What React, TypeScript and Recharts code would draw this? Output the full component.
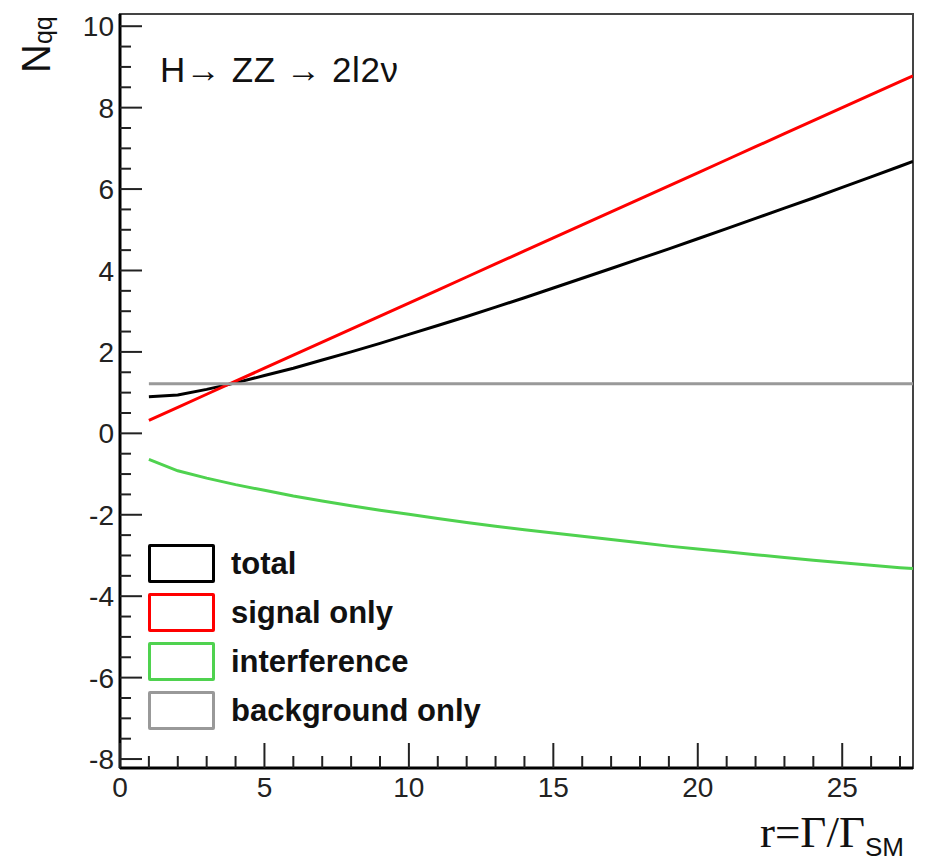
import React from "react";
import { LineChart, Line, XAxis, YAxis, ReferenceArea, Legend } from "recharts";

// r = Gamma / Gamma_SM
const rValues = [1, 2, 3, 4, 5, 6, 7, 8, 9, 10, 11, 12, 13, 14, 15, 16, 17, 18, 19, 20, 21, 22, 23, 24, 25, 26, 27, 27.45];
const total = [0.9, 0.94, 1.08, 1.24, 1.42, 1.6, 1.8, 2.0, 2.21, 2.43, 2.65, 2.87, 3.1, 3.33, 3.57, 3.81, 4.05, 4.29, 4.53, 4.78, 5.03, 5.28, 5.53, 5.78, 6.04, 6.3, 6.56, 6.68];
const signalOnly = [0.32, 0.64, 0.96, 1.28, 1.6, 1.92, 2.24, 2.56, 2.88, 3.2, 3.52, 3.84, 4.16, 4.48, 4.8, 5.12, 5.44, 5.76, 6.08, 6.4, 6.72, 7.04, 7.36, 7.68, 8.0, 8.32, 8.64, 8.78];
const interference = [-0.64, -0.92, -1.1, -1.26, -1.4, -1.54, -1.66, -1.78, -1.89, -1.99, -2.09, -2.19, -2.28, -2.37, -2.45, -2.53, -2.61, -2.69, -2.77, -2.84, -2.91, -2.98, -3.05, -3.12, -3.18, -3.24, -3.3, -3.32];
const backgroundOnly = [1.22, 1.22, 1.22, 1.22, 1.22, 1.22, 1.22, 1.22, 1.22, 1.22, 1.22, 1.22, 1.22, 1.22, 1.22, 1.22, 1.22, 1.22, 1.22, 1.22, 1.22, 1.22, 1.22, 1.22, 1.22, 1.22, 1.22, 1.22];

const xTicks = [0, 1, 2, 3, 4, 5, 6, 7, 8, 9, 10, 11, 12, 13, 14, 15, 16, 17, 18, 19, 20, 21, 22, 23, 24, 25, 26, 27];
const yTicks = [-8, -7.5, -7, -6.5, -6, -5.5, -5, -4.5, -4, -3.5, -3, -2.5, -2, -1.5, -1, -0.5, 0, 0.5, 1, 1.5, 2, 2.5, 3, 3.5, 4, 4.5, 5, 5.5, 6, 6.5, 7, 7.5, 8, 8.5, 9, 9.5, 10];

const series = [
  { key: "total", name: "total", color: "#000000" },
  { key: "signal", name: "signal only", color: "#ff0000" },
  { key: "interference", name: "interference", color: "#4fd24f" },
  { key: "background", name: "background only", color: "#999999" },
];

const data = rValues.map((r, i) => ({
  r,
  total: total[i],
  signal: signalOnly[i],
  interference: interference[i],
  background: backgroundOnly[i],
}));

const sans = "'Liberation Sans', Arial, Helvetica, sans-serif";

const XTick = (props: any) => {
  const { x, y, payload } = props;
  const v = payload.value;
  const major = v % 5 === 0;
  return (
    <g>
      <line x1={x} x2={x} y1={y} y2={y - (major ? 25 : 12)} stroke="#222" strokeWidth={2} />
      {major && (
        <text x={x} y={y + 9} dy="0.71em" textAnchor="middle" fontSize={28} fontFamily={sans} fill="#222">
          {v}
        </text>
      )}
    </g>
  );
};

const YTick = (props: any) => {
  const { x, y, payload } = props;
  const v = payload.value;
  const major = v % 2 === 0;
  return (
    <g>
      <line x1={x} x2={x + (major ? 22 : 11)} y1={y} y2={y} stroke="#222" strokeWidth={2} />
      {major && (
        <text x={x - 6} y={y} dy="0.36em" textAnchor="end" fontSize={28} fontFamily={sans} fill="#222">
          {v}
        </text>
      )}
    </g>
  );
};

const LegendBox = () => (
  <div style={{ fontFamily: sans, fontWeight: "bold", fontSize: 31, color: "#111" }}>
    {series.map((s) => (
      <div key={s.key} style={{ display: "flex", alignItems: "center", height: 49 }}>
        <div
          style={{
            width: 61,
            height: 33,
            border: `3px solid ${s.color}`,
            borderRadius: 2,
            marginRight: 16,
          }}
        />
        <span>{s.name}</span>
      </div>
    ))}
  </div>
);

export default function App() {
  return (
    <div style={{ position: "absolute", left: 0, top: 0, width: 927, height: 865, background: "#fff" }}>
      <LineChart width={927} height={865} data={data} margin={{ top: 14, right: 14, bottom: 0, left: 0 }}>
        <ReferenceArea x1={0} x2={27.45} y1={-8.22} y2={10.3} fill="none" stroke="#444" strokeWidth={2} ifOverflow="visible" />
        <XAxis
          type="number"
          dataKey="r"
          domain={[0, 27.45]}
          ticks={xTicks}
          interval={0}
          allowDataOverflow
          height={97}
          tickSize={0}
          tickMargin={0}
          tick={<XTick />}
          axisLine={{ stroke: "#000", strokeWidth: 3 }}
          tickLine={false}
        />
        <YAxis
          type="number"
          domain={[-8.22, 10.3]}
          ticks={yTicks}
          interval={0}
          allowDataOverflow
          width={120}
          tickSize={0}
          tickMargin={0}
          tick={<YTick />}
          axisLine={{ stroke: "#000", strokeWidth: 3 }}
          tickLine={false}
        />
        {series.map((s) => (
          <Line
            key={s.key}
            type="linear"
            dataKey={s.key}
            name={s.name}
            stroke={s.color}
            strokeWidth={3}
            dot={false}
            isAnimationActive={false}
          />
        ))}
        <Legend
          layout="vertical"
          align="center"
          verticalAlign="middle"
          content={<LegendBox />}
          wrapperStyle={{ left: 148, top: 539, width: 380 }}
        />
      </LineChart>
      <svg width={927} height={865} style={{ position: "absolute", left: 0, top: 0, pointerEvents: "none" }}>
        <text x={160} y={82} fontSize={35} fontFamily={sans} fill="#111" textLength={238} lengthAdjust="spacing">
          H→ ZZ → 2l2ν
        </text>
        <text transform="translate(50,73) rotate(-90)" fontSize={40} fontFamily={sans} fill="#111">
          N
          <tspan fontSize={25} dy={2}>qq</tspan>
        </text>
        <text x={760} y={847} fontSize={45} fontFamily="'Liberation Serif', 'Times New Roman', serif" fill="#111">
          r=Γ/Γ
          <tspan fontSize={26} fontFamily={sans} dy={9}>SM</tspan>
        </text>
      </svg>
    </div>
  );
}
